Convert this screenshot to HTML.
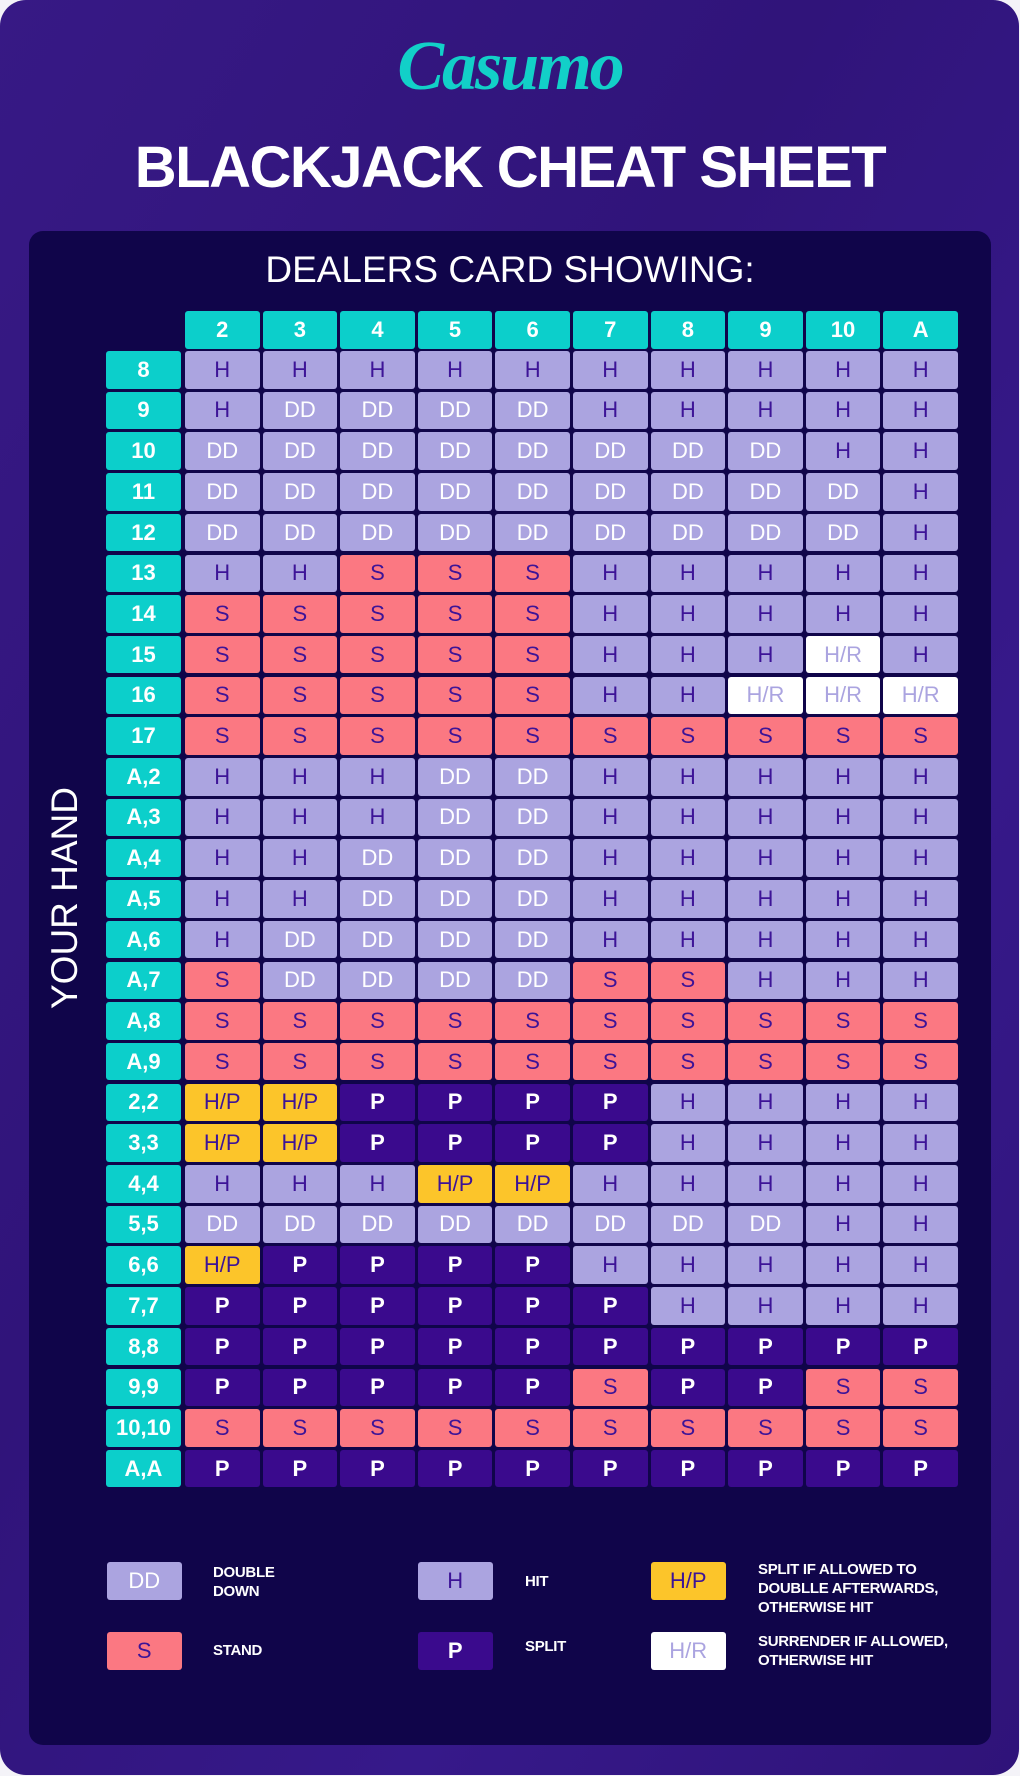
<!DOCTYPE html>
<html><head><meta charset="utf-8"><style>
*{margin:0;padding:0;box-sizing:border-box}
body{width:1020px;height:1776px;background:#f4f3f8;position:relative;overflow:hidden;font-family:"Liberation Sans",sans-serif}
#card{position:absolute;left:0;top:0;width:1019px;height:1775px;border-radius:26px;background:linear-gradient(120deg,#371985 0%,#30147a 40%,#36198a 70%,#2f1379 100%)}
#panel{position:absolute;left:29px;top:231px;width:962px;height:1514px;border-radius:14px;background:#10054a}
.c{position:absolute;width:74.5px;height:37.5px;border-radius:3px;display:flex;align-items:center;justify-content:center;font-size:22px}
.t{background:#0ccfcb;color:#fff;font-weight:bold}
.H{background:#aba4e0;color:#3d1497}
.D{background:#aba4e0;color:#fff}
.S{background:#fb7882;color:#3d1497}
.P{background:#3a0a8d;color:#fff;font-weight:bold}
.Y{background:#fcc52a;color:#3d1497}
.R{background:#fff;color:#aba4e0}
.lt{position:absolute;color:#fff;font-weight:bold;font-size:15px;line-height:19px;letter-spacing:-0.3px}
</style></head><body>
<div id="card"></div>
<div id="panel"></div>
<div style="position:absolute;left:0;width:1020px;top:27px;text-align:center;color:#12d0c8;font-size:70px;font-weight:bold;font-style:italic;font-family:'Liberation Serif',serif;letter-spacing:-2px">Casumo</div>
<div style="position:absolute;left:0;width:1020px;top:138px;text-align:center;color:#fff;font-size:58px;font-weight:bold;letter-spacing:-1.5px;line-height:60px">BLACKJACK CHEAT SHEET</div>
<div style="position:absolute;left:0;width:1020px;top:250px;text-align:center;color:#fff;font-size:37px;line-height:40px">DEALERS CARD SHOWING:</div>
<div style="position:absolute;left:65px;top:898px;transform:translate(-50%,-50%) rotate(-90deg);color:#fff;font-size:37px;white-space:nowrap">YOUR HAND</div>
<div id="g"></div>
<div class="c D" style="left:107px;top:1562px">DD</div><div class="lt" style="left:213px;top:1563px">DOUBLE<br>DOWN</div>
<div class="c S" style="left:107px;top:1632px">S</div><div class="lt" style="left:213px;top:1641px">STAND</div>
<div class="c H" style="left:418px;top:1562px">H</div><div class="lt" style="left:525px;top:1572px">HIT</div>
<div class="c P" style="left:418px;top:1632px">P</div><div class="lt" style="left:525px;top:1637px">SPLIT</div>
<div class="c Y" style="left:651px;top:1562px">H/P</div><div class="lt" style="left:758px;top:1560px">SPLIT IF ALLOWED TO<br>DOUBLLE AFTERWARDS,<br>OTHERWISE HIT</div>
<div class="c R" style="left:651px;top:1632px">H/R</div><div class="lt" style="left:758px;top:1632px">SURRENDER IF ALLOWED,<br>OTHERWISE HIT</div>
<script>
var cols=["2","3","4","5","6","7","8","9","10","A"];
var rows=[["8","HHHHHHHHHH"],["9","HDDDDHHHHH"],["10","DDDDDDDDHH"],["11","DDDDDDDDDH"],["12","DDDDDDDDDH"],["13","HHSSSHHHHH"],["14","SSSSSHHHHH"],["15","SSSSSHHHRH"],["16","SSSSSHHRRR"],["17","SSSSSSSSSS"],["A,2","HHHDDHHHHH"],["A,3","HHHDDHHHHH"],["A,4","HHDDDHHHHH"],["A,5","HHDDDHHHHH"],["A,6","HDDDDHHHHH"],["A,7","SDDDDSSHHH"],["A,8","SSSSSSSSSS"],["A,9","SSSSSSSSSS"],["2,2","YYPPPPHHHH"],["3,3","YYPPPPHHHH"],["4,4","HHHYYHHHHH"],["5,5","DDDDDDDDHH"],["6,6","YPPPPHHHHH"],["7,7","PPPPPPHHHH"],["8,8","PPPPPPPPPP"],["9,9","PPPPPSPPSS"],["10,10","SSSSSSSSSS"],["A,A","PPPPPPPPPP"]];
var txt={H:"H",D:"DD",S:"S",P:"P",Y:"H/P",R:"H/R"};
var h="";
function X(i){return 185+i*77.6}
for(var i=0;i<10;i++)h+='<div class="c t" style="left:'+X(i)+'px;top:311px">'+cols[i]+'</div>';
for(var r=0;r<rows.length;r++){var y=351+r*40.7;
h+='<div class="c t" style="left:106px;top:'+y+'px;width:75px">'+rows[r][0]+'</div>';
for(var i=0;i<10;i++){var k=rows[r][1][i];h+='<div class="c '+k+'" style="left:'+X(i)+'px;top:'+y+'px">'+txt[k]+'</div>';}}
document.getElementById("g").innerHTML=h;
</script>
</body></html>
